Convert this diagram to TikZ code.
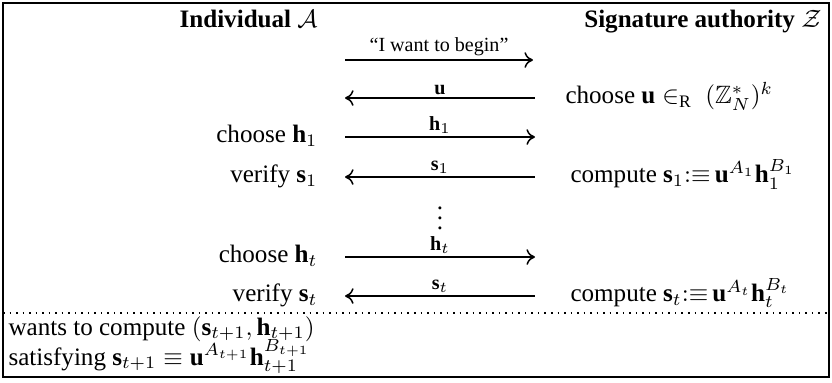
\documentclass[tikz,border=0pt]{standalone}
\usepackage{amsmath}
\usepackage{amssymb}
\usepackage{fontspec}
\setmainfont{Liberation Serif}
\usetikzlibrary{arrows.meta,positioning}

\begin{document}
\begin{tikzpicture}[
    x=0.014cm, y=-0.014cm,
    >={To[length=1.2mm,width=2.2mm]},
    head/.style={font=\bfseries, inner sep=0pt},
    side/.style={inner sep=0pt},
    lbl/.style={above, font=\footnotesize, inner sep=1.2pt},
    msg/.style={semithick}
]
\useasboundingbox (0,0) rectangle (832,382);
\draw[line width=0.8pt] (3,3) rectangle (829,377);

\node[head, anchor=base east] (hA) at (318,27) {Individual $\mathcal{A}$};
\node[head, anchor=base east] (hZ) at (822,27) {Signature authority $\mathcal{Z}$};

% row 1
\coordinate (a1) at (345,60);
\coordinate (b1) at (533,60);
\draw[msg, ->] (a1) -- node[lbl] (m1) {``I want to begin''} (b1);

% row 2
\coordinate (a2) at (345,98);
\coordinate (b2) at (535,98);
\draw[msg, <-] (a2) -- node[lbl] (m2) {$\mathbf{u}$} (b2);
\node[side, anchor=mid west] (r2) at (565,98) {choose $\mathbf{u} \in_{\mathrm{R}}\ (\mathbb{Z}_N^*)^k$};

% row 3
\coordinate (a3) at (345,137);
\coordinate (b3) at (535,137);
\node[side, anchor=mid east] (l3) at (318,137) {choose $\mathbf{h}_1$};
\draw[msg, ->] (a3) -- node[lbl] (m3) {$\mathbf{h}_1$} (b3);

% row 4
\coordinate (a4) at (345,177);
\coordinate (b4) at (535,177);
\node[side, anchor=mid east] (l4) at (318,177) {verify $\mathbf{s}_1$};
\draw[msg, <-] (a4) -- node[lbl] (m4) {$\mathbf{s}_1$} (b4);
\node[side, anchor=mid west] (r4) at (570,177) {compute $\mathbf{s}_1{:}{\equiv}\,\mathbf{u}^{A_1}\mathbf{h}_1^{B_1}$};

\node[side] (dots) at (440,211) {$\vdots$};

% row 5
\coordinate (a5) at (345,257);
\coordinate (b5) at (535,257);
\node[side, anchor=mid east] (l5) at (318,257) {choose $\mathbf{h}_t$};
\draw[msg, ->] (a5) -- node[lbl] (m5) {$\mathbf{h}_t$} (b5);

% row 6
\coordinate (a6) at (345,296);
\coordinate (b6) at (535,296);
\node[side, anchor=mid east] (l6) at (318,296) {verify $\mathbf{s}_t$};
\draw[msg, <-] (a6) -- node[lbl] (m6) {$\mathbf{s}_t$} (b6);
\node[side, anchor=mid west] (r6) at (570,296) {compute $\mathbf{s}_t{:}{\equiv}\,\mathbf{u}^{A_t}\mathbf{h}_t^{B_t}$};

\draw[dotted, semithick] (3,313) -- (829,313);

\node[side, anchor=base west] (w1) at (8,335) {wants to compute $(\mathbf{s}_{t+1}, \mathbf{h}_{t+1})$};
\node[side, anchor=base west] (w2) at (8,365) {satisfying $\mathbf{s}_{t+1} \equiv \mathbf{u}^{A_{t+1}}\mathbf{h}_{t+1}^{B_{t+1}}$};
\end{tikzpicture}
\end{document}
